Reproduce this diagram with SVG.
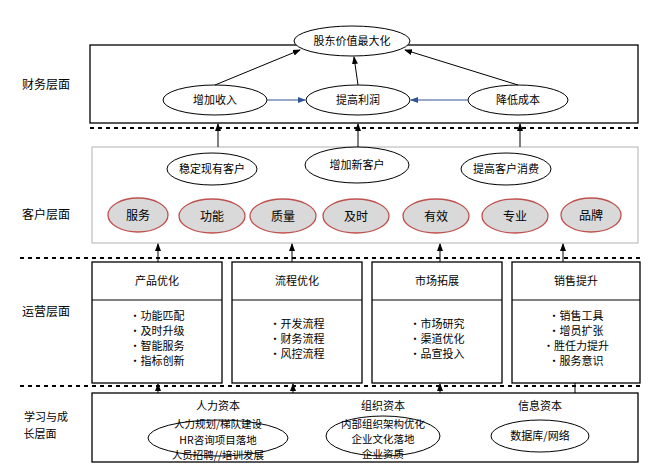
<svg xmlns="http://www.w3.org/2000/svg" width="660" height="467" viewBox="0 0 660 467">
<defs>
<marker id="ah" markerWidth="8" markerHeight="8" refX="7" refY="4" orient="auto" markerUnits="userSpaceOnUse"><path d="M0,1 L8,4 L0,7 z" fill="#000"/></marker>
<marker id="ahb" markerWidth="8" markerHeight="8" refX="7" refY="4" orient="auto" markerUnits="userSpaceOnUse"><path d="M0,1 L8,4 L0,7 z" fill="#2f5597"/></marker>
<style>
text{font-family:"Noto Sans CJK SC","Liberation Serif",serif;font-size:11px;fill:#000;text-anchor:middle}
.box{fill:#fff;stroke:#000;stroke-width:1.3}
.oval{fill:#fff;stroke:#000;stroke-width:1}
.red{fill:#d9d9d9;stroke:#c0504d;stroke-width:1.3}
.dash{stroke:#000;stroke-width:1.8;stroke-dasharray:4,4}
.c{stroke:#000;stroke-width:1;fill:none}
.b{stroke:#2f5597;stroke-width:1.2;fill:none}
.big{font-size:12px}
.sm{font-size:10.5px}
</style>
</defs>
<rect width="660" height="467" fill="#fff"/>
<g id="labels">
<text x="46" y="89" class="big">财务层面</text>
<text x="46" y="219" class="big">客户层面</text>
<text x="46" y="316" class="big">运营层面</text>
<text x="46" y="421">学习与成</text>
<text x="40" y="438">长层面</text>
</g>
<g id="dividers">
<line class="dash" x1="90" y1="128" x2="642" y2="128"/>
<line class="dash" x1="20" y1="258" x2="642" y2="258"/>
<line class="dash" x1="20" y1="386" x2="642" y2="386"/>
</g>
<g id="finance">
<rect class="box" x="90" y="45" width="548" height="78"/>
<g id="n-top"><ellipse class="oval" cx="352" cy="41" rx="58" ry="15"/><text x="352" y="45">股东价值最大化</text></g>
<g id="n-rev"><ellipse class="oval" cx="215" cy="100" rx="52" ry="15"/><text x="215" y="104">增加收入</text></g>
<g id="n-profit"><ellipse class="oval" cx="358" cy="100" rx="52" ry="15"/><text x="358" y="104">提高利润</text></g>
<g id="n-cost"><ellipse class="oval" cx="518" cy="100" rx="50" ry="15"/><text x="518" y="104">降低成本</text></g>
</g>
<g id="customer">
<rect x="92" y="147" width="546" height="96" fill="#fff" stroke="#bfbfbf" stroke-width="1.2"/>
<g id="n-c1"><ellipse class="oval" cx="212" cy="169" rx="45" ry="16"/><text x="212" y="173">稳定现有客户</text></g>
<g id="n-c2"><ellipse class="oval" cx="357" cy="165" rx="52" ry="18"/><text x="357" y="169">增加新客户</text></g>
<g id="n-c3"><ellipse class="oval" cx="506" cy="169" rx="45" ry="16"/><text x="506" y="173">提高客户消费</text></g>
<g id="n-r1"><ellipse class="red" cx="138" cy="215" rx="30" ry="17"/><text x="138" y="220" class="big">服务</text></g>
<g id="n-r2"><ellipse class="red" cx="212" cy="216" rx="33" ry="17"/><text x="212" y="221" class="big">功能</text></g>
<g id="n-r3"><ellipse class="red" cx="283" cy="216" rx="33" ry="17"/><text x="283" y="221" class="big">质量</text></g>
<g id="n-r4"><ellipse class="red" cx="356" cy="216" rx="33" ry="17"/><text x="356" y="221" class="big">及时</text></g>
<g id="n-r5"><ellipse class="red" cx="436" cy="216" rx="33" ry="17"/><text x="436" y="221" class="big">有效</text></g>
<g id="n-r6"><ellipse class="red" cx="515" cy="216" rx="33" ry="17"/><text x="515" y="221" class="big">专业</text></g>
<g id="n-r7"><ellipse class="red" cx="591" cy="215" rx="30" ry="17"/><text x="591" y="220" class="big">品牌</text></g>
</g>
<g id="operations">
<g id="n-o1"><rect class="box" x="92" y="262" width="130" height="121"/><line class="c" x1="92" y1="300" x2="222" y2="300"/><text x="157" y="285">产品优化</text>
<text x="157" y="320">•功能匹配</text><text x="157" y="335">•及时升级</text><text x="157" y="350">•智能服务</text><text x="157" y="365">•指标创新</text></g>
<g id="n-o2"><rect class="box" x="232" y="262" width="130" height="121"/><line class="c" x1="232" y1="300" x2="362" y2="300"/><text x="297" y="285">流程优化</text>
<text x="297" y="328">•开发流程</text><text x="297" y="343">•财务流程</text><text x="297" y="358">•风控流程</text></g>
<g id="n-o3"><rect class="box" x="372" y="262" width="130" height="121"/><line class="c" x1="372" y1="300" x2="502" y2="300"/><text x="437" y="285">市场拓展</text>
<text x="437" y="328">•市场研究</text><text x="437" y="343">•渠道优化</text><text x="437" y="358">•品宣投入</text></g>
<g id="n-o4"><rect class="box" x="512" y="262" width="128" height="121"/><line class="c" x1="512" y1="300" x2="640" y2="300"/><text x="576" y="285">销售提升</text>
<text x="576" y="320">•销售工具</text><text x="576" y="335">•增员扩张</text><text x="576" y="350">•胜任力提升</text><text x="576" y="365">•服务意识</text></g>
</g>
<g id="learning">
<rect class="box" x="92" y="393" width="546" height="69"/>
<g id="n-l1"><ellipse class="oval" cx="218" cy="438" rx="70" ry="18"/><text x="218" y="410">人力资本</text><text x="218" y="428" class="sm">人力规划/梯队建设</text><text x="218" y="444" class="sm">HR咨询项目落地</text><text x="218" y="459" class="sm">人员招聘//培训发展</text></g>
<g id="n-l2"><ellipse class="oval" cx="383" cy="436" rx="57" ry="20"/><text x="383" y="410">组织资本</text><text x="383" y="428" class="sm">内部组织架构优化</text><text x="383" y="443" class="sm">企业文化落地</text><text x="383" y="458" class="sm">企业资质</text></g>
<g id="n-l3"><ellipse class="oval" cx="540" cy="436" rx="49" ry="16"/><text x="540" y="410">信息资本</text><text x="540" y="440">数据库/网络</text></g>
</g>
<g id="connectors">
<line class="c" x1="215" y1="85" x2="300" y2="50" marker-end="url(#ah)"/>
<line class="c" x1="358" y1="85" x2="354" y2="57" marker-end="url(#ah)"/>
<line class="c" x1="518" y1="85" x2="405" y2="50" marker-end="url(#ah)"/>
<line class="b" x1="267" y1="100" x2="305" y2="100" marker-end="url(#ahb)"/>
<line class="b" x1="468" y1="100" x2="411" y2="100" marker-end="url(#ahb)"/>
<line class="c" x1="218" y1="147" x2="218" y2="124" marker-end="url(#ah)"/>
<line class="c" x1="358" y1="147" x2="358" y2="124" marker-end="url(#ah)"/>
<line class="c" x1="520" y1="147" x2="520" y2="124" marker-end="url(#ah)"/>
<line class="c" x1="158" y1="262" x2="158" y2="244" marker-end="url(#ah)"/>
<line class="c" x1="292" y1="262" x2="292" y2="244" marker-end="url(#ah)"/>
<line class="c" x1="440" y1="262" x2="440" y2="244" marker-end="url(#ah)"/>
<line class="c" x1="563" y1="262" x2="563" y2="244" marker-end="url(#ah)"/>
<line class="c" x1="158" y1="393" x2="158" y2="384" marker-end="url(#ah)"/>
<line class="c" x1="293" y1="393" x2="293" y2="384" marker-end="url(#ah)"/>
<line class="c" x1="440" y1="393" x2="440" y2="384" marker-end="url(#ah)"/>
<line class="c" x1="575" y1="393" x2="575" y2="383"/>
</g>
</svg>
